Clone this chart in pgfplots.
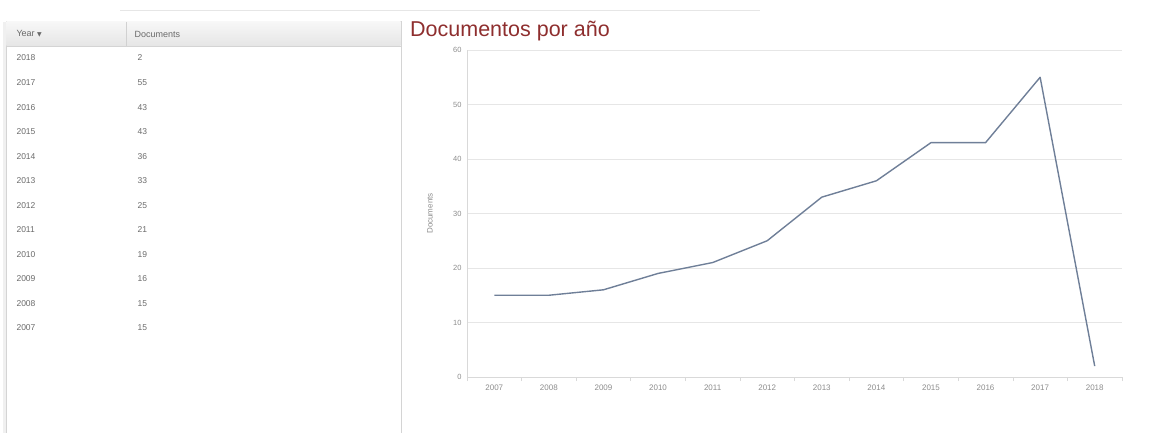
\documentclass[border=0pt]{standalone}
\usepackage{fontspec}
\setmainfont{Liberation Sans}
\newfontfamily\symfont{DejaVu Sans}
\usepackage{pgfplots}
\pgfplotsset{compat=1.18}
\definecolor{titlered}{HTML}{8E2E2E}
\definecolor{linecol}{HTML}{6F7F98}
\definecolor{gridcol}{HTML}{E6E6E6}
\definecolor{ticktext}{HTML}{8C8C8C}
\definecolor{celltext}{HTML}{6A6A6A}
\definecolor{panelline}{HTML}{D4D4D4}

\begin{document}
\begin{tikzpicture}
\path[use as bounding box] (0pt,0pt) rectangle (1154pt,-433pt);

% table panel on the left (pixel coordinates, y downwards)
\begin{scope}[x=1pt,y=-1pt]
  \draw[gridcol, line width=0.6pt] (120,10) -- (760,10);
  \fill[black!6] (3,22) rectangle (6,440);
  \draw[panelline, line width=0.8pt] (6,21) rectangle (401,440);
  \shade[top color=black!3, bottom color=black!10] (6.4,21.4) rectangle (400.6,46);
  \draw[panelline, line width=0.8pt] (6,46) -- (401,46);
  \draw[black!18, line width=0.6pt] (126,22) -- (126,46);
  \node[anchor=west, text=celltext, font=\fontsize{9}{10}\selectfont] at (13,34)
    {Year {\symfont\fontsize{6}{7}\selectfont ▼}};
  \node[anchor=west, text=celltext, font=\fontsize{9}{10}\selectfont] at (131,34) {Documents};
  \foreach \yr/\val [count=\i from 0] in {2018/2,2017/55,2016/43,2015/43,2014/36,2013/33,
      2012/25,2011/21,2010/19,2009/16,2008/15,2007/15} {
    \node[anchor=west, text=celltext, font=\fontsize{8.5}{10}\selectfont] at (13,58+24.55*\i) {\yr};
    \node[anchor=west, text=celltext, font=\fontsize{8.5}{10}\selectfont] at (134,58+24.55*\i) {\val};
  }
\end{scope}

% chart title
\node[anchor=base west, text=titlered, font=\fontsize{21.5}{25}\selectfont, inner sep=0pt]
  at (410pt,-37pt) {Documentos por año};

\begin{axis}[
    at={(467pt,-377pt)}, anchor=south west,
    scale only axis, width=655pt, height=327pt,
    xmin=-0.5, xmax=11.5, ymin=0, ymax=60,
    axis x line*=bottom, axis y line*=left,
    axis line style={black!15, line width=0.7pt},
    xtick={0,...,11},
    xticklabels={2007,2008,2009,2010,2011,2012,2013,2014,2015,2016,2017,2018},
    minor xtick={-0.5,0.5,...,11.5},
    ytick={0,10,...,60},
    /pgf/number format/assume math mode=true,
    ymajorgrids, grid style={gridcol, line width=0.8pt},
    major tick length=0pt,
    minor tick length=4pt,
    minor x tick style={black!15, line width=0.6pt},
    xtick align=outside,
    tick label style={text=ticktext},
    xticklabel style={font=\fontsize{8}{9}\selectfont, yshift=-4pt},
    yticklabel style={font=\fontsize{7.5}{9}\selectfont, xshift=-2pt},
    ylabel={Documents},
    ylabel style={at={(axis description cs:-0.0565,0.5)}, anchor=center,
                  font=\fontsize{8}{9}\selectfont, text=ticktext},
  ]
  \addplot[linecol, line width=1.4pt, line join=round] coordinates {
    (0,15) (1,15) (2,16) (3,19) (4,21) (5,25)
    (6,33) (7,36) (8,43) (9,43) (10,55) (11,2)
  };
\end{axis}
\end{tikzpicture}
\end{document}
